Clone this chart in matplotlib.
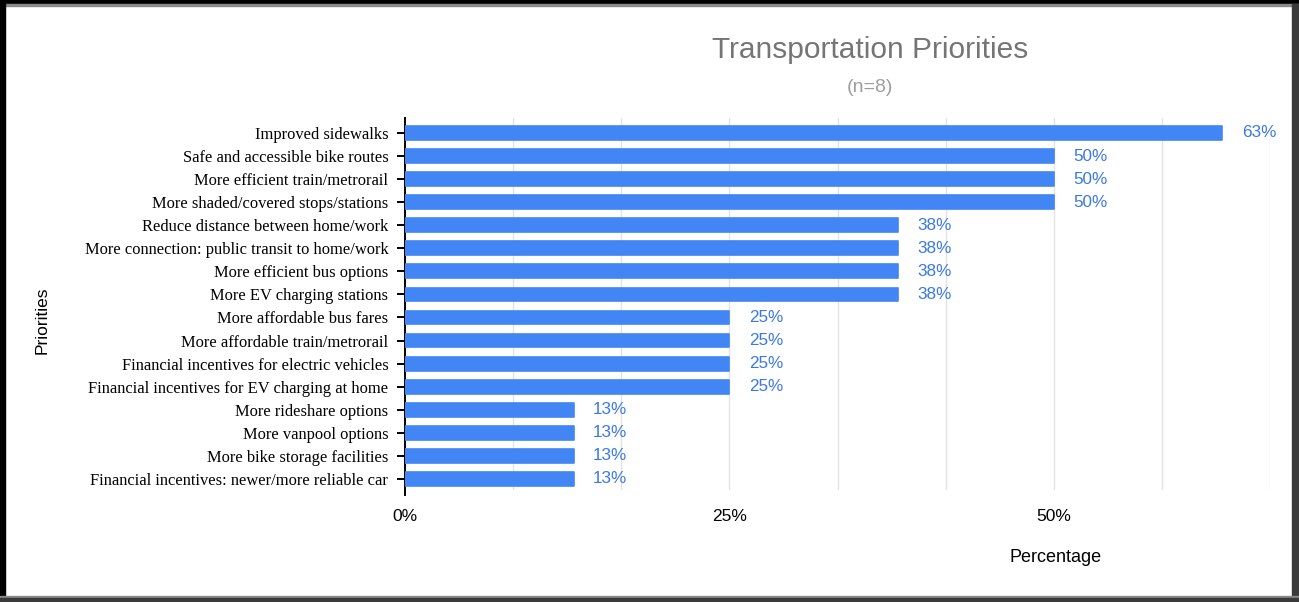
import numpy as np
import matplotlib.pyplot as plt
from matplotlib.patches import Rectangle

# survey results (n=8), percent of respondents as shown in the sheet
priorities = [
    "Improved sidewalks",
    "Safe and accessible bike routes",
    "More efficient train/metrorail",
    "More shaded/covered stops/stations",
    "Reduce distance between home/work",
    "More connection: public transit to home/work",
    "More efficient bus options",
    "More EV charging stations",
    "More affordable bus fares",
    "More affordable train/metrorail",
    "Financial incentives for electric vehicles",
    "Financial incentives for EV charging at home",
    "More rideshare options",
    "More vanpool options",
    "More bike storage facilities",
    "Financial incentives: newer/more reliable car",
]
percent = [63, 50, 50, 50, 38, 38, 38, 38,
           25, 25, 25, 25, 13, 13, 13, 13]
xticks = [0, 25, 50]

blue = '#4285F4'
label_blue = '#3b78e7'

fig = plt.figure(figsize=(12.99, 6.02), dpi=100)
ax = fig.add_axes([405/1299, 1 - 490/602, 865/1299, 372/602])

y = np.arange(len(priorities))
ax.barh(y, percent, height=0.6, color=blue, edgecolor=blue,
        linewidth=1.2, joinstyle='round', zorder=3)

for yi, v in zip(y, percent):
    ax.annotate(f"{v}%", (v, yi), xytext=(14, 0), textcoords='offset points',
                ha='left', va='center', color=label_blue,
                fontsize=12.3, family='Liberation Sans')

ax.set_xlim(0, 200 / 3)
ax.set_ylim(15.48, -0.65)

# light grid every 1/12, labels only at 0/25/50
ax.set_xticks(np.arange(0, 200 / 3 + 0.01, 100 / 12), minor=True)
ax.set_xticks(xticks)
ax.set_xticklabels([f"{t}%" for t in xticks], fontsize=12.5, family='Liberation Sans')
ax.tick_params(axis='x', which='both', length=0, pad=14)
ax.grid(axis='x', which='both', color='#e3e3e3', linewidth=1, zorder=0)

ax.set_yticks(y)
ax.set_yticklabels(priorities, fontsize=11.9, family='Liberation Serif')
ax.tick_params(axis='y', direction='inout', length=12, width=1.4, pad=6)

for s in ['top', 'right', 'bottom']:
    ax.spines[s].set_visible(False)
ax.spines['left'].set_linewidth(1.4)
ax.spines['left'].set_bounds(15.7, -0.65)

fig.text(1056/1299, 1 - 557/602, "Percentage", ha='center', va='center',
         fontsize=13, family='Liberation Sans')
fig.text(42/1299, 1 - 320/602, "Priorities", ha='center', va='center',
         rotation=90, fontsize=12.5, family='Liberation Sans')
fig.text(870/1299, 1 - 50/602, "Transportation Priorities", ha='center', va='center',
         fontsize=21.5, color='#757575', family='Liberation Sans')
fig.text(870/1299, 1 - 88/602, "(n=8)", ha='center', va='center',
         fontsize=14, color='#9e9e9e', family='Liberation Sans')

# screenshot frame
W, H = 1299, 602
def box(x0, y0, w, h, c):
    fig.patches.append(Rectangle((x0 / W, 1 - (y0 + h) / H), w / W, h / H,
                                 transform=fig.transFigure, color=c, zorder=10))
box(0, 0, W, 4, 'black')
box(0, 4, W, 2, '#8a8a8a')
box(0, 0, 5, H, 'black')
box(1292, 4, 7, H, '#3a3a3a')
box(0, 596, W, 2, '#8a8a8a')
box(0, 598, W, 4, '#3a3a3a')

fig.savefig('out.png', dpi=100)
